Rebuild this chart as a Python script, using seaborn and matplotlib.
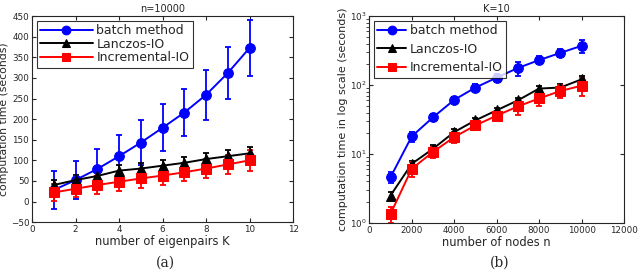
import seaborn as sns
import matplotlib
matplotlib.use("Agg")
import matplotlib.pyplot as plt
import numpy as np
import pandas as pd

methods = ["batch method", "Lanczos-IO", "Incremental-IO"]
colors = ["#0000ff", "#000000", "#ff0000"]
marks = ["o", "^", "s"]

# panel (a): n=10000, varying K
K = [1, 2, 3, 4, 5, 6, 7, 8, 9, 10]
batch_K = [28, 52, 79, 110, 143, 179, 216, 259, 312, 373]
batch_K_err = [45, 47, 48, 51, 54, 57, 58, 60, 63, 68]
lanczos_K = [40, 52, 62, 75, 80, 87, 94, 103, 110, 117]
lanczos_K_err = [12, 12, 12, 13, 13, 13, 13, 14, 14, 15]
incr_K = [22, 31, 40, 48, 56, 63, 71, 80, 90, 100]
incr_K_err = [20, 21, 21, 22, 22, 22, 22, 23, 24, 25]

# panel (b): K=10, varying n
n_nodes = [1000, 2000, 3000, 4000, 5000, 6000, 7000, 8000, 9000, 10000]
batch_n = [4.6, 18, 34, 61, 92, 128, 177, 230, 293, 371]
batch_n_err = [0.8, 3, 4, 6, 10, 18, 40, 30, 40, 80]
lanczos_n = [2.5, 7.2, 11.9, 20.8, 30.8, 43, 60, 89, 92, 121]
lanczos_n_err = [0.3, 0.8, 1.5, 2.5, 3, 4, 6, 8, 10, 15]
incr_n = [1.35, 6.1, 10.7, 17.6, 26, 36, 49, 64, 82, 98]
incr_n_err = [0.35, 1.5, 1.8, 3, 4, 6, 12, 14, 18, 28]

sns.set_style("ticks")
plt.rcParams["font.family"] = ["DejaVu Sans"]

fig = plt.figure(figsize=(6.4, 2.78), dpi=100)
axa = fig.add_axes([0.05, 0.201, 0.408, 0.741])
axb = fig.add_axes([0.577, 0.198, 0.398, 0.744])


def draw(ax, x, series, errs, xlabel, ylabel, title, ylsize, hlen, lspace):
    rows = []
    for m, ys in zip(methods, series):
        for xi, yi in zip(x, ys):
            rows.append({"x": xi, "y": yi, "method": m})
    df = pd.DataFrame(rows)
    for m, ys, es, c in zip(methods, series, errs, colors):
        ax.errorbar(x, ys, yerr=es, fmt="none", ecolor=c, elinewidth=1.3,
                    capsize=2, capthick=1.3, zorder=2)
    sns.lineplot(data=df, x="x", y="y", hue="method", style="method",
                 palette=colors, markers=marks, dashes=False, markersize=7,
                 markeredgecolor=None, linewidth=1.4, ax=ax, zorder=3)
    for line, c in zip(ax.get_lines()[-3:], colors):
        line.set_markeredgecolor(c)
    ax.set_xlabel(xlabel, fontsize=8.3, labelpad=1)
    ax.set_ylabel(ylabel, fontsize=ylsize, labelpad=1)
    ax.set_title(title, fontsize=7, pad=3)
    ax.tick_params(direction="in", top=True, right=True, labelsize=6.3,
                   length=3, pad=2)
    for s in ax.spines.values():
        s.set_linewidth(0.8)
    leg = ax.legend(loc="upper left", fontsize=9, handlelength=hlen,
                    frameon=True, fancybox=False, edgecolor="black",
                    borderpad=0.25, labelspacing=lspace, handletextpad=0.3,
                    borderaxespad=0.4, markerscale=0.9)
    leg.get_frame().set_linewidth(0.8)


draw(axa, K, [batch_K, lanczos_K, incr_K],
     [batch_K_err, lanczos_K_err, incr_K_err],
     "number of eigenpairs K", "computation time (seconds)", "n=10000",
     7.8, 4.2, 0.05)
axa.set_xlim(0, 12)
axa.set_ylim(-50, 450)
axa.set_xticks(range(0, 13, 2))
axa.set_yticks(range(-50, 451, 50))

draw(axb, n_nodes, [batch_n, lanczos_n, incr_n],
     [batch_n_err, lanczos_n_err, incr_n_err],
     "number of nodes n", "computation time in log scale (seconds)", "K=10",
     8.0, 2.3, 0.45)
axb.set_yscale("log")
axb.set_xlim(0, 12000)
axb.set_ylim(1, 1000)
axb.set_xticks(range(0, 12001, 2000))

fig.text(0.258, 0.055, "(a)", ha="center", va="center", fontsize=10,
         family="DejaVu Serif")
fig.text(0.78, 0.055, "(b)", ha="center", va="center", fontsize=10,
         family="DejaVu Serif")

fig.savefig("out.png", dpi=100)
